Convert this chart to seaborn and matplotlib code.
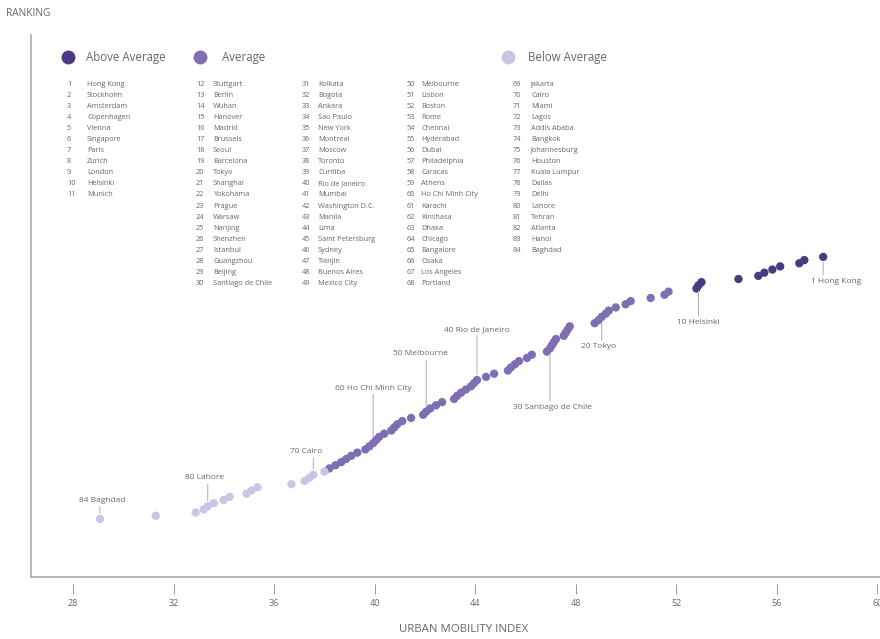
import pandas as pd
import seaborn as sns
import matplotlib.pyplot as plt
from matplotlib.lines import Line2D

# Urban mobility index per city, ordered by ranking (1 = best)
cities = [
    'Hong Kong', 'Stockholm', 'Amsterdam', 'Copenhagen', 'Vienna', 'Singapore',
    'Paris', 'Zurich', 'London', 'Helsinki', 'Munich',
    'Stuttgart', 'Berlin', 'Wuhan', 'Hanover', 'Madrid', 'Brussels', 'Seoul',
    'Barcelona', 'Tokyo', 'Shanghai', 'Yokohama', 'Prague', 'Warsaw', 'Nanjing',
    'Shenzhen', 'Istanbul', 'Guangzhou', 'Beijing', 'Santiago de Chile',
    'Kolkata', 'Bogota', 'Ankara', 'Sao Paulo', 'New York', 'Montreal', 'Moscow',
    'Toronto', 'Curitiba', 'Rio de Janeiro', 'Mumbai', 'Washington D.C.', 'Manila',
    'Lima', 'Saint Petersburg', 'Sydney', 'Tianjin', 'Buenos Aires', 'Mexico City',
    'Melbourne', 'Lisbon', 'Boston', 'Rome', 'Chennai', 'Hyderabad', 'Dubai',
    'Philadelphia', 'Caracas', 'Athens', 'Ho Chi Minh City', 'Karachi', 'Kinshasa',
    'Dhaka', 'Chicago', 'Bangalore', 'Osaka', 'Los Angeles', 'Portland',
    'Jakarta', 'Cairo', 'Miami', 'Lagos', 'Addis Ababa', 'Bangkok', 'Johannesburg',
    'Houston', 'Kuala Lumpur', 'Dallas', 'Delhi', 'Lahore', 'Tehran', 'Atlanta',
    'Hanoi', 'Baghdad',
]
index = [
    57.84, 57.09, 56.89, 56.13, 55.82, 55.50, 55.26, 54.47, 53.00, 52.88, 52.80,
    51.69, 51.53, 50.98, 50.18, 49.98, 49.59, 49.31, 49.19, 49.03, 48.91, 48.75,
    47.76, 47.68, 47.60, 47.52, 47.21, 47.13, 47.05, 46.97,
    46.85, 46.25, 46.06, 45.74, 45.58, 45.42, 45.30, 44.75, 44.43, 44.07, 43.95,
    43.83, 43.63, 43.44, 43.28, 43.16, 42.68, 42.44, 42.21,
    42.05, 41.93, 41.45, 41.10, 40.90, 40.78, 40.66, 40.38, 40.18, 40.06, 39.94,
    39.79, 39.63, 39.31, 39.07, 38.87, 38.67, 38.44, 38.20,
    38.00, 37.56, 37.40, 37.21, 36.69, 35.34, 35.10, 34.90, 34.23, 33.99, 33.60,
    33.36, 33.20, 32.88, 31.29, 29.07,
]
groups = ['Above Average'] * 11 + ['Average'] * 57 + ['Below Average'] * 16
group_colors = {'Above Average': '#4b3a82', 'Average': '#7f6fb2', 'Below Average': '#cdc4e4'}
labelled = [1, 10, 20, 30, 40, 50, 60, 70, 80, 84]
xticks = [28, 32, 36, 40, 44, 48, 52, 56, 60]

df = pd.DataFrame({'Rank': range(1, len(cities) + 1), 'City': cities,
                   'Index': index, 'Group': groups})

sns.set_style('white')
plt.rcParams['font.family'] = ['Open Sans', 'DejaVu Sans']
text_color = '#6a6470'
axis_color = '#b4a6b2'

fig = plt.figure(figsize=(8.8, 6.39), dpi=100)
ax = fig.add_axes([31 / 880, 1 - 577 / 639, 1 - 31 / 880, (577 - 35) / 639])

sns.scatterplot(data=df, x='Index', y='Rank', hue='Group', palette=group_colors,
                s=36, edgecolor='none', legend=False, ax=ax, zorder=3)

ax.set_xlim(26.33, 60.1)
ax.set_ylim(102.4, -69.3)
ax.set_xticks(xticks)
ax.set_yticks([])
ax.set_xlabel('')
ax.set_ylabel('')
ax.tick_params(axis='x', bottom=True, direction='out', length=7, width=0.7,
               color='#9a949c', labelsize=6.5, labelcolor=text_color, pad=4)
for side in ['top', 'right']:
    ax.spines[side].set_visible(False)
ax.spines['left'].set_color(axis_color)
ax.spines['left'].set_linewidth(1.2)
ax.spines['bottom'].set_position(('outward', 5))
ax.spines['bottom'].set_visible(False)
ax.axhline(102.4, color=axis_color, lw=1.2, clip_on=False)

# Callouts for every tenth city: vertical leader line, then the label
# (text dx, text dy, line end dy) in points
offsets = {1: (9, -15, -13), 10: (0, -24, -22), 20: (-2, -19, -17),
           30: (2, -40, -38), 40: (0, 34, 32), 50: (-4, 39, 37),
           60: (0, 37, 35), 70: (-5, 14, 12), 80: (-2, 18, 16), 84: (2, 11, 9)}
for r in labelled:
    row = df.iloc[r - 1]
    dx, dy, ly = offsets[r]
    ax.annotate('', (row['Index'], row['Rank']), xytext=(0, ly),
                textcoords='offset points',
                arrowprops=dict(arrowstyle='-', color='#b3aab9', lw=0.7,
                                shrinkA=0, shrinkB=4))
    ax.annotate(f"{r} {row['City']}", (row['Index'], row['Rank']),
                xytext=(dx, dy), textcoords='offset points', ha='center',
                va='top' if dy < 0 else 'bottom', fontsize=6, color=text_color)

# Custom legend: group headers with city lists underneath
headers = [('Above Average', 68, 86), ('Average', 200, 222), ('Below Average', 508, 528)]
for name, dot_x, txt_x in headers:
    fig.add_artist(Line2D([dot_x / 880], [1 - 57 / 639], marker='o', markersize=10,
                          color=group_colors[name], markeredgewidth=0,
                          transform=fig.transFigure))
    fig.text(txt_x / 880, 1 - 57 / 639, name, fontsize=8.3, color=text_color, va='center')

columns = [(1, 11, 67, 87), (12, 30, 196, 213), (31, 49, 302, 318),
           (50, 68, 407, 421), (69, 84, 513, 531)]
for start, end, num_x, name_x in columns:
    for i, r in enumerate(range(start, end + 1)):
        y = 1 - (84 + i * 11.1) / 639
        fig.text(num_x / 880, y, str(r), fontsize=5.3, color=text_color, va='center')
        fig.text(name_x / 880, y, cities[r - 1], fontsize=5.3, color=text_color, va='center')

fig.text(6 / 880, 1 - 13 / 639, 'RANKING', fontsize=7.3, color=text_color, va='center')
fig.text(464 / 880, 1 - 629 / 639, 'URBAN MOBILITY INDEX', fontsize=8.2, color=text_color,
         ha='center', va='center')

plt.savefig('out.png', dpi=100)
